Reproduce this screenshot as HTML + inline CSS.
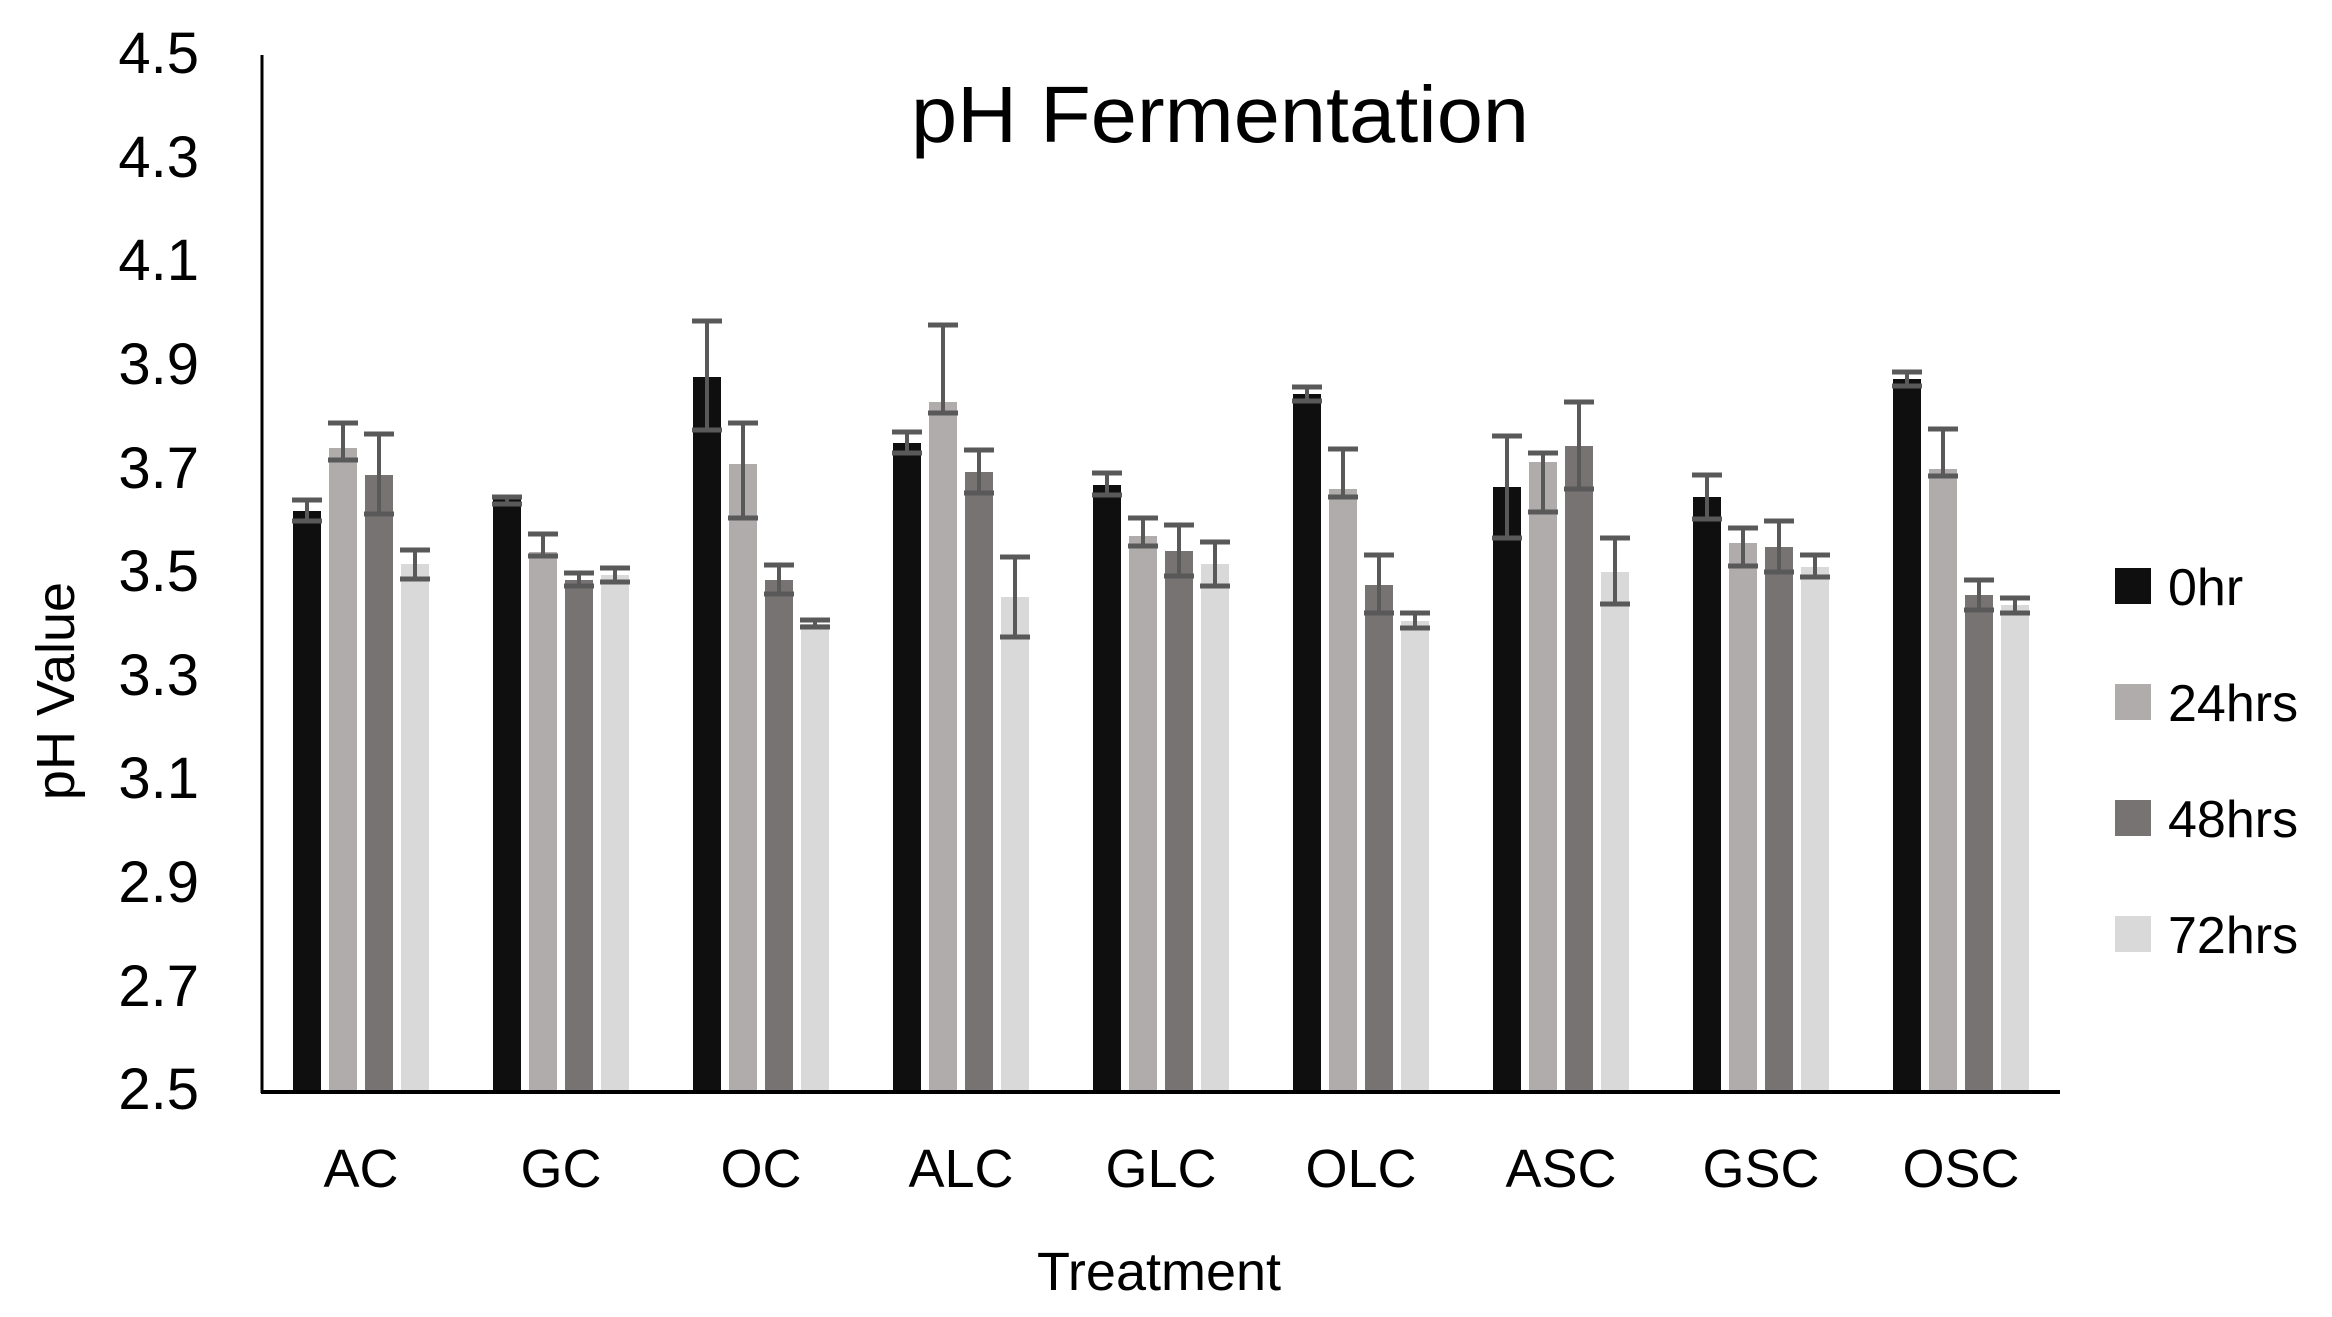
<!DOCTYPE html>
<html><head><meta charset="utf-8"><style>
html,body{margin:0;padding:0;background:#fff;}
svg{display:block;}
text{font-family:"Liberation Sans",sans-serif;fill:#000;}
</style></head><body>
<svg id="c" width="2332" height="1317" viewBox="0 0 2332 1317" xmlns="http://www.w3.org/2000/svg">
<rect width="2332" height="1317" fill="#fff"/>
<text x="1220" y="142" font-size="80" text-anchor="middle" textLength="618" lengthAdjust="spacingAndGlyphs">pH Fermentation</text>
<g font-size="58" text-anchor="end">
<text x="199" y="73">4.5</text>
<text x="199" y="177">4.3</text>
<text x="199" y="280">4.1</text>
<text x="199" y="384">3.9</text>
<text x="199" y="488">3.7</text>
<text x="199" y="591">3.5</text>
<text x="199" y="695">3.3</text>
<text x="199" y="798">3.1</text>
<text x="199" y="902">2.9</text>
<text x="199" y="1006">2.7</text>
<text x="199" y="1109">2.5</text>
</g>
<g font-size="54" text-anchor="middle">
<text x="361" y="1187">AC</text>
<text x="561" y="1187">GC</text>
<text x="761" y="1187">OC</text>
<text x="961" y="1187">ALC</text>
<text x="1161" y="1187">GLC</text>
<text x="1361" y="1187">OLC</text>
<text x="1561" y="1187">ASC</text>
<text x="1761" y="1187">GSC</text>
<text x="1961" y="1187">OSC</text>
</g>
<text x="1159" y="1290" font-size="54" text-anchor="middle">Treatment</text>
<text transform="translate(74,691) rotate(-90)" font-size="54" text-anchor="middle">pH Value</text>
<g id="bars"></g>
<line x1="262" y1="55" x2="262" y2="1093" stroke="#000" stroke-width="3"/>
<line x1="261" y1="1092" x2="2060" y2="1092" stroke="#000" stroke-width="4"/>
<rect x="2115" y="568" width="36" height="36" fill="#0f0f0f"/>
<rect x="2115" y="684" width="36" height="36" fill="#afacab"/>
<rect x="2115" y="800" width="36" height="36" fill="#767372"/>
<rect x="2115" y="916" width="36" height="36" fill="#d9d9d9"/>
<g font-size="52">
<text x="2168" y="605">0hr</text>
<text x="2168" y="721">24hrs</text>
<text x="2168" y="837">48hrs</text>
<text x="2168" y="953">72hrs</text>
</g>
</svg>
<script>
var d=[
[[511,500,521],[448,423,460],[475,434,514],[564,550,579]],
[[497,497,504],[552,534,556],[580,573,586],[575,568,582]],
[[377,321,430],[464,423,518],[580,565,594],[624,620,627]],
[[443,432,453],[402,325,413],[472,450,493],[597,557,637]],
[[485,473,495],[536,518,546],[551,525,576],[564,542,586]],
[[394,387,401],[489,449,497],[585,555,613],[621,613,628]],
[[487,436,538],[462,453,512],[446,402,489],[572,538,604]],
[[497,475,519],[543,528,566],[547,521,572],[567,555,577]],
[[379,372,386],[469,429,476],[595,580,610],[605,598,613]]];
var col=["#0f0f0f","#afacab","#767372","#d9d9d9"];
var s="";
for(var g=0;g<9;g++){var c=361+g*200;
for(var i=0;i<4;i++){var x=c-68+i*36,b=d[g][i];
s+='<rect x="'+x+'" y="'+b[0]+'" width="28" height="'+(1091-b[0])+'" fill="'+col[i]+'"/>';
var m=x+14;
s+='<line x1="'+m+'" y1="'+b[1]+'" x2="'+m+'" y2="'+b[2]+'" stroke="#595959" stroke-width="4"/>';
s+='<line x1="'+(m-15)+'" y1="'+b[1]+'" x2="'+(m+15)+'" y2="'+b[1]+'" stroke="#595959" stroke-width="5"/>';
s+='<line x1="'+(m-15)+'" y1="'+b[2]+'" x2="'+(m+15)+'" y2="'+b[2]+'" stroke="#595959" stroke-width="5"/>';
}}
document.getElementById("bars").innerHTML=s;
</script>
</body></html>
